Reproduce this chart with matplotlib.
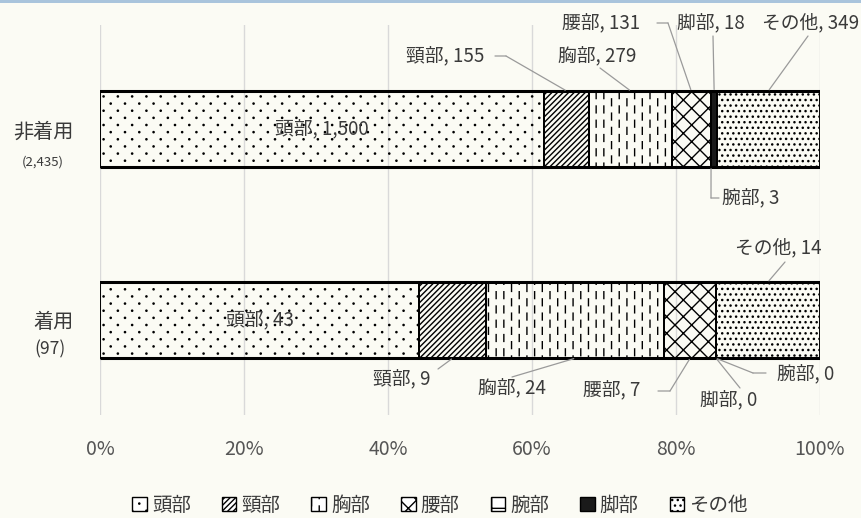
import matplotlib
matplotlib.use("Agg")
import warnings
warnings.filterwarnings("ignore")
import matplotlib.pyplot as plt
import matplotlib.hatch as mhatch
from matplotlib.path import Path
from matplotlib.patches import Patch, Rectangle
import numpy as np

plt.rcParams['font.family'] = ['Noto Sans CJK JP', 'DejaVu Sans']
plt.rcParams['hatch.linewidth'] = 1.0


# custom hatch: staggered vertical dashes, character '!'
class DashedVertical(mhatch.HatchPatternBase):
    def __init__(self, hatch, density):
        n = hatch.count('!')
        self.segs = []
        if n:
            ncol = int(round(2.2 * n * density))
            nrow = int(round(1.1 * n * density))
            for c in range(ncol):
                x = (c + 0.5) / ncol
                off = 0.5 * (c % 2)
                for r in range(nrow):
                    y0 = (r + off + 0.1) / nrow
                    y1 = y0 + 0.48 / nrow
                    if y0 >= 1:
                        y0 -= 1
                        y1 -= 1
                    if y1 > 1:
                        self.segs.append((x, y0, x, 1.0))
                        self.segs.append((x, 0.0, x, y1 - 1))
                    else:
                        self.segs.append((x, y0, x, y1))
        self.num_vertices = 2 * len(self.segs)

    def set_vertices_and_codes(self, vertices, codes):
        for k, (x0, y0, x1, y1) in enumerate(self.segs):
            vertices[2 * k] = (x0, y0)
            vertices[2 * k + 1] = (x1, y1)
            codes[2 * k] = Path.MOVETO
            codes[2 * k + 1] = Path.LINETO


# custom hatch: sparse staggered small dots, character ':'
class SparseDots(mhatch.HatchPatternBase):
    def __init__(self, hatch, density):
        n = hatch.count(':')
        self.centers = []
        if n:
            nx = int(round(1.15 * n * density))
            ny = int(round(2.3 * n * density))
            for r in range(ny):
                for c in range(nx):
                    x = (c + 0.25 + 0.5 * (r % 2)) / nx
                    y = (r + 0.5) / ny
                    self.centers.append((x, y))
        circ = Path.unit_circle()
        self.cv = circ.vertices * 0.006
        self.cc = circ.codes
        self.num_vertices = len(self.centers) * len(self.cv)

    def set_vertices_and_codes(self, vertices, codes):
        m = len(self.cv)
        for k, (x, y) in enumerate(self.centers):
            vertices[k * m:(k + 1) * m] = self.cv + (x, y)
            codes[k * m:(k + 1) * m] = self.cc


mhatch._hatch_types.append(DashedVertical)
mhatch._hatch_types.append(SparseDots)

# ---- data ----
groups = ["非着用", "着用"]
group_n = ["(2,435)", "(97)"]
categories = ["頭部", "頸部", "胸部", "腰部", "腕部", "脚部", "その他"]
non_wearing = [1500, 155, 279, 131, 3, 18, 349]
wearing = [43, 9, 24, 7, 0, 0, 14]
xticklabels = ["0%", "20%", "40%", "60%", "80%", "100%"]

hatches = [':', '//////', '!', 'xx', '+', '', '...']
facecolors = ['none', 'none', 'none', 'none', 'white', '#1a1a1a', 'none']

BG = '#fbfbf4'
TXT = '#3a3a3a'
LEAD = '#9a9a9a'
FS = 13.5

W, H = 861, 518
fig = plt.figure(figsize=(W / 100, H / 100), dpi=100, facecolor=BG)
ax = fig.add_axes([100 / W, 1 - 415 / H, 720 / W, 390 / H], facecolor=BG)

data = np.array([non_wearing, wearing], dtype=float)
pct = data / data.sum(axis=1, keepdims=True) * 100
left = np.zeros(2)
ypos = np.array([0, 1])
bh = 0.40
for j, cat in enumerate(categories):
    ax.barh(ypos, pct[:, j], left=left, height=bh, color=facecolors[j],
            hatch=hatches[j], edgecolor='black', linewidth=1.4, label=cat, zorder=3)
    left += pct[:, j]
cum = np.cumsum(pct, axis=1)
starts = cum - pct

# thick top/bottom border lines
for y in ypos:
    ax.plot([0, 100], [y - bh / 2, y - bh / 2], color='black', lw=2.2, zorder=4, solid_capstyle='butt')
    ax.plot([0, 100], [y + bh / 2, y + bh / 2], color='black', lw=2.2, zorder=4, solid_capstyle='butt')

ax.set_xlim(0, 100)
ax.set_ylim(1.497, -0.545)
ax.set_xticks(np.linspace(0, 100, 6))
ax.set_xticklabels(xticklabels, fontsize=14, color='#555555')
ax.tick_params(axis='x', length=0, pad=17)
ax.set_yticks([])
ax.grid(axis='x', color='#d9d9d9', lw=1, zorder=0)
for s in ax.spines.values():
    s.set_visible(False)

# group labels
fig.text(43 / W, 1 - 132 / H, groups[0], fontsize=14.5, color=TXT, ha='center', va='center')
fig.text(43 / W, 1 - 162 / H, group_n[0], fontsize=9.5, color=TXT, ha='center', va='center')
fig.text(54 / W, 1 - 323 / H, groups[1], fontsize=14.5, color=TXT, ha='center', va='center')
fig.text(50 / W, 1 - 349 / H, group_n[1], fontsize=12.5, color=TXT, ha='center', va='center')


def fmt(v):
    return f"{int(v):,}"


def lab(i, j):
    return f"{categories[j]}, {fmt(data[i, j])}"


# inside labels
for i in range(2):
    ax.text(pct[i, 0] / 2, ypos[i], lab(i, 0), fontsize=FS, color=TXT, ha='center', va='center', zorder=5)


def seg(p0, p1):
    ax.annotate('', xy=(p1[0], H - p1[1]), xycoords='figure pixels',
                xytext=(p0[0], H - p0[1]), textcoords='figure pixels',
                arrowprops=dict(arrowstyle='-', color=LEAD, lw=0.9, shrinkA=0, shrinkB=0),
                annotation_clip=False, zorder=6)


def ann(i, j, px, py, side, start, stub=None, ha='left'):
    """label at (px, py) in top-left pixels; leader from start (pixels) to bar edge (data)."""
    ax.text(px, H - py, lab(i, j), transform=None, fontsize=FS, color=TXT,
            ha=ha, va='center', zorder=6)
    if stub is not None:
        seg(stub, start)
    xmid = starts[i, j] + pct[i, j] / 2
    yedge = ypos[i] - bh / 2 if side == 'top' else ypos[i] + bh / 2
    ax.annotate('', xy=(xmid, yedge), xycoords='data',
                xytext=(start[0], H - start[1]), textcoords='figure pixels',
                arrowprops=dict(arrowstyle='-', color=LEAD, lw=0.9, shrinkA=0, shrinkB=1),
                annotation_clip=False, zorder=6)


# non-wearing bar
ann(0, 1, 406, 56, 'top', start=(506, 56), stub=(495, 56))
ann(0, 2, 558, 56, 'top', start=(600, 68))
ann(0, 3, 562, 23, 'top', start=(668, 23), stub=(657, 23))
ann(0, 5, 677, 23, 'top', start=(713, 36))
ann(0, 6, 859, 23, 'top', start=(808, 36), ha='right')
ann(0, 4, 722, 198, 'bottom', start=(711, 198), stub=(719, 198))
# wearing bar
ann(1, 1, 373, 379, 'bottom', start=(438, 369))
ann(1, 2, 478, 388, 'bottom', start=(512, 377))
ann(1, 3, 583, 390, 'bottom', start=(670, 391), stub=(658, 391))
ann(1, 5, 700, 400, 'bottom', start=(740, 388))
ann(1, 4, 777, 374, 'bottom', start=(753, 373), stub=(766, 373))
ann(1, 6, 735, 248, 'top', start=(785, 262))

# legend
handles = [Patch(facecolor=('white' if facecolors[j] == 'none' else facecolors[j]),
                 hatch=hatches[j], edgecolor='black', linewidth=1.0, label=categories[j])
           for j in range(len(categories))]
fig.legend(handles=handles, loc='center', bbox_to_anchor=(440 / W, 1 - 505 / H),
           ncol=7, frameon=False, fontsize=14, handlelength=0.75, handleheight=0.75,
           handletextpad=0.25, columnspacing=1.6, labelcolor=TXT)

# top decorative band
fig.patches.append(Rectangle((0, 1 - 3 / H), 1, 3 / H, transform=fig.transFigure,
                             facecolor='#a9c4dc', edgecolor='none'))

fig.savefig("out.png", dpi=100, facecolor=BG)
